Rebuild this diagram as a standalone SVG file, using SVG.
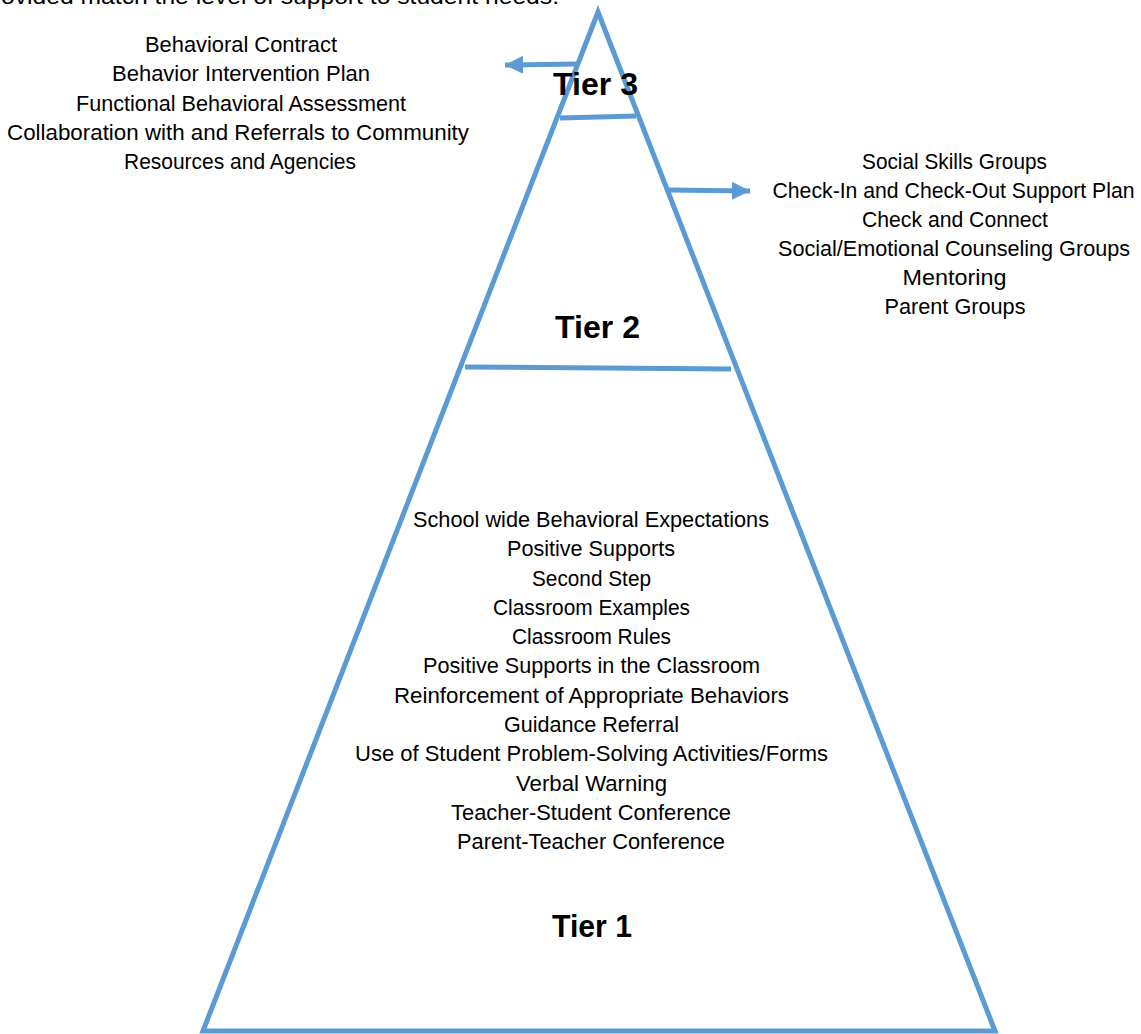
<svg xmlns="http://www.w3.org/2000/svg" width="1141" height="1034" viewBox="0 0 1141 1034">
<style>
  .t { font-family: "Liberation Sans", Arial, sans-serif; font-size: 22px; fill: #000; }
  .r { text-anchor: middle; }
  .tier { font-family: "Liberation Sans", Arial, sans-serif; font-size: 31px; font-weight: bold; fill: #000; }
  .edge { fill: none; stroke: #5B9BD5; stroke-width: 5; }
</style>
<defs>
  <marker id="ah" markerUnits="userSpaceOnUse" markerWidth="20" markerHeight="20" viewBox="0 0 20 20" refX="18" refY="10" orient="auto">
    <path d="M0,1 L18,10 L0,19 Z" fill="#5B9BD5"/>
  </marker>
</defs>
<rect width="1141" height="1034" fill="#fff"/>
<text class="t" x="1" y="4" textLength="558" lengthAdjust="spacingAndGlyphs">ovided match the level of support to student needs.</text>

<g id="pyramid">
  <polygon class="edge" points="598,12 995,1031 203,1031" stroke-linejoin="miter"/>
  <line class="edge" x1="560" y1="118" x2="636" y2="116"/>
  <line class="edge" x1="465" y1="367" x2="731" y2="369"/>
</g>

<g id="connectors">
  <line class="edge" x1="578" y1="64" x2="505" y2="65" marker-end="url(#ah)"/>
  <line class="edge" x1="669" y1="190" x2="750" y2="191" marker-end="url(#ah)"/>
</g>

<g id="tier3">
  <text class="tier" x="553" y="95" textLength="85" lengthAdjust="spacingAndGlyphs">Tier 3</text>
</g>
<g id="tier2">
  <text class="tier" x="555" y="338" textLength="85" lengthAdjust="spacingAndGlyphs">Tier 2</text>
</g>
<g id="tier1">
  <text class="tier" x="552" y="937" textLength="80" lengthAdjust="spacingAndGlyphs">Tier 1</text>
</g>

<g id="tier3-supports">
  <text class="t" x="145" y="52" textLength="192" lengthAdjust="spacingAndGlyphs">Behavioral Contract</text>
  <text class="t" x="112" y="81" textLength="258" lengthAdjust="spacingAndGlyphs">Behavior Intervention Plan</text>
  <text class="t" x="76" y="110.5" textLength="330" lengthAdjust="spacingAndGlyphs">Functional Behavioral Assessment</text>
  <text class="t" x="7" y="140" textLength="462" lengthAdjust="spacingAndGlyphs">Collaboration with and Referrals to Community</text>
  <text class="t" x="124" y="169" textLength="232" lengthAdjust="spacingAndGlyphs">Resources and Agencies</text>
</g>

<g id="tier2-supports">
  <text class="t r" x="954.5" y="169" textLength="185" lengthAdjust="spacingAndGlyphs">Social Skills Groups</text>
  <text class="t r" x="953.5" y="198" textLength="362" lengthAdjust="spacingAndGlyphs">Check-In and Check-Out Support Plan</text>
  <text class="t r" x="955" y="227" textLength="186" lengthAdjust="spacingAndGlyphs">Check and Connect</text>
  <text class="t r" x="954" y="256" textLength="352" lengthAdjust="spacingAndGlyphs">Social/Emotional Counseling Groups</text>
  <text class="t r" x="954.5" y="285" textLength="104" lengthAdjust="spacingAndGlyphs">Mentoring</text>
  <text class="t r" x="955" y="314" textLength="141" lengthAdjust="spacingAndGlyphs">Parent Groups</text>
</g>

<g id="tier1-supports">
  <text class="t" x="413" y="527" textLength="356" lengthAdjust="spacingAndGlyphs">School wide Behavioral Expectations</text>
  <text class="t" x="507" y="556" textLength="168" lengthAdjust="spacingAndGlyphs">Positive Supports</text>
  <text class="t" x="532" y="585.5" textLength="119" lengthAdjust="spacingAndGlyphs">Second Step</text>
  <text class="t" x="493" y="614.5" textLength="197" lengthAdjust="spacingAndGlyphs">Classroom Examples</text>
  <text class="t" x="512" y="644" textLength="159" lengthAdjust="spacingAndGlyphs">Classroom Rules</text>
  <text class="t" x="423" y="673" textLength="337" lengthAdjust="spacingAndGlyphs">Positive Supports in the Classroom</text>
  <text class="t" x="394" y="702.5" textLength="395" lengthAdjust="spacingAndGlyphs">Reinforcement of Appropriate Behaviors</text>
  <text class="t" x="504" y="732" textLength="175" lengthAdjust="spacingAndGlyphs">Guidance Referral</text>
  <text class="t" x="355" y="761" textLength="473" lengthAdjust="spacingAndGlyphs">Use of Student Problem-Solving Activities/Forms</text>
  <text class="t" x="516" y="790.5" textLength="151" lengthAdjust="spacingAndGlyphs">Verbal Warning</text>
  <text class="t" x="451" y="820" textLength="280" lengthAdjust="spacingAndGlyphs">Teacher-Student Conference</text>
  <text class="t" x="457" y="849" textLength="268" lengthAdjust="spacingAndGlyphs">Parent-Teacher Conference</text>
</g>
</svg>
